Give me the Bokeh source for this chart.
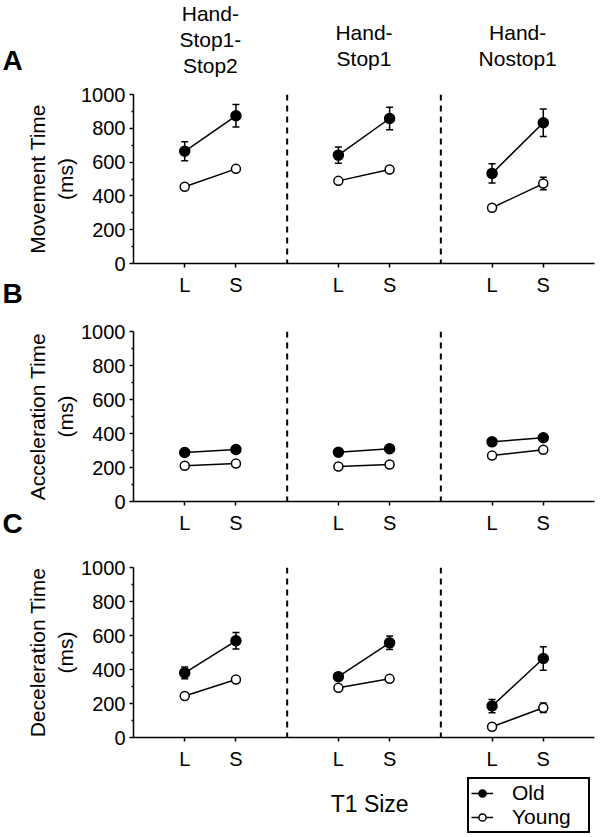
from bokeh.plotting import figure
from bokeh.models import Range1d, FixedTicker, Span, Legend, LegendItem
from bokeh.core.properties import value
from bokeh.layouts import column, row
from bokeh.embed import file_html
from bokeh.resources import INLINE

# ---------------- data ----------------
group_title_lines = [["Hand-", "Stop1-", "Stop2"], ["Hand-", "Stop1"], ["Hand-", "Nostop1"]]
sizes = ["L", "S"]
panel_letters = ["A", "B", "C"]
panel_ylabels = ["Movement Time\n(ms)", "Acceleration Time\n(ms)", "Deceleration Time\n(ms)"]
y_ticks = [0, 200, 400, 600, 800, 1000]
series_names = ["Old", "Young"]
x_title = "T1 Size"

# order: (group1 L, group1 S, group2 L, group2 S, group3 L, group3 S)
old_movement = [664, 874, 641, 858, 533, 833]
old_movement_err = [56, 67, 48, 67, 57, 81]
young_movement = [454, 560, 489, 556, 330, 473]
young_movement_err = [0, 0, 0, 0, 0, 37]

old_accel = [288, 306, 290, 310, 351, 375]
old_accel_err = [0, 0, 0, 0, 0, 0]
young_accel = [210, 224, 206, 218, 271, 304]
young_accel_err = [0, 0, 0, 0, 0, 0]

old_decel = [380, 569, 358, 557, 185, 465]
old_decel_err = [34, 48, 0, 40, 39, 69]
young_decel = [244, 341, 292, 345, 63, 175]
young_decel_err = [0, 0, 0, 0, 0, 28]

FONT = "Liberation Sans"
N_GROUPS = len(group_title_lines)
# each group occupies 3 x-units: L at 3g+1, S at 3g+2, separator at 3g+3
x_pos = [3 * g + 1 + j for g in range(N_GROUPS) for j in range(len(sizes))]
tick_labels = {x: sizes[i % 2] for i, x in enumerate(x_pos)}
minor_y = [(a + b) / 2 for a, b in zip(y_ticks[:-1], y_ticks[1:])]

STRIP_W = 23
FRAME_W = 461
BORDER_L = 110
BORDER_R = 4
COL_W = BORDER_L + FRAME_W + BORDER_R
HEADER_H = 82
FOOTER_H = 63
# (border top, frame height, border bottom) of each panel
PANEL_DIMS = [(12, 169, 49), (19, 170, 45), (21, 170, 35)]

STYLE = dict(line_color="black", line_width=1.5)
OLD_MARK = dict(marker="circle", size=10, fill_color="black", line_color="black", line_width=1.5)
YOUNG_MARK = dict(marker="circle", size=9, fill_color="white", line_color="black", line_width=1.5)


def blank_fig(width, height, x_range, y_range, **kw):
    p = figure(width=width, height=height, x_range=x_range, y_range=y_range,
               x_axis_location=None, y_axis_location=None,
               output_backend="svg", toolbar_location=None, **kw)
    p.xgrid.visible = False
    p.ygrid.visible = False
    p.outline_line_color = None
    return p


def make_panel(idx, old, old_err, young, young_err):
    b_top, frame_h, b_bot = PANEL_DIMS[idx]
    p = figure(frame_width=FRAME_W, frame_height=frame_h,
               min_border_left=BORDER_L, min_border_right=BORDER_R,
               min_border_top=b_top, min_border_bottom=b_bot,
               x_range=Range1d(0, 3 * N_GROUPS), y_range=Range1d(0, 1000),
               output_backend="svg", toolbar_location=None)
    p.xgrid.visible = False
    p.ygrid.visible = False
    p.outline_line_color = None

    for ax in (p.xaxis[0], p.yaxis[0]):
        ax.axis_line_color = "black"
        ax.axis_line_width = 1.5
        ax.major_tick_line_color = "black"
        ax.major_tick_line_width = 1.5
        ax.minor_tick_line_color = "black"
        ax.minor_tick_line_width = 1.5
        ax.major_tick_in = 0
        ax.major_tick_out = 4
        ax.minor_tick_in = 0
        ax.minor_tick_out = 2
        ax.major_label_text_font = FONT
        ax.major_label_text_font_size = "20px"
        ax.major_label_text_color = "black"
        ax.axis_label_text_font = FONT
        ax.axis_label_text_font_style = "normal"
        ax.axis_label_text_font_size = "21px"
        ax.axis_label_text_color = "black"

    p.yaxis.ticker = FixedTicker(ticks=y_ticks, minor_ticks=minor_y)
    p.yaxis.major_label_standoff = 4
    p.yaxis.axis_label = panel_ylabels[idx]
    p.yaxis.axis_label_standoff = 1

    p.xaxis.ticker = FixedTicker(ticks=x_pos)
    p.xaxis.major_label_overrides = tick_labels
    p.xaxis.major_label_standoff = 6

    for g in range(1, N_GROUPS):
        p.add_layout(Span(location=3 * g, dimension="height", line_color="black",
                          line_width=2, line_dash="6 5"))

    for vals, errs, mark in ((old, old_err, OLD_MARK), (young, young_err, YOUNG_MARK)):
        ex = [x for x, e in zip(x_pos, errs) if e > 0]
        elo = [v - e for v, e in zip(vals, errs) if e > 0]
        ehi = [v + e for v, e in zip(vals, errs) if e > 0]
        if ex:
            p.segment(x0=ex, y0=elo, x1=ex, y1=ehi, **STYLE)
            p.scatter(x=ex + ex, y=elo + ehi, marker="dash", size=7, **STYLE)
        xs = [x_pos[2 * g:2 * g + 2] for g in range(N_GROUPS)]
        ys = [vals[2 * g:2 * g + 2] for g in range(N_GROUPS)]
        p.multi_line(xs=xs, ys=ys, **STYLE)
        p.scatter(x=x_pos, y=vals, **mark)
    return p


# ---------------- header with group titles ----------------
header = blank_fig(COL_W, HEADER_H, Range1d(0, 3 * N_GROUPS), Range1d(HEADER_H, 0),
                   min_border_left=BORDER_L, min_border_right=BORDER_R,
                   min_border_top=0, min_border_bottom=0)
tx, ty, tt = [], [], []
for g, lines in enumerate(group_title_lines):
    n = len(lines)
    center = 39 if n == 3 else 45
    for i, t in enumerate(lines):
        tx.append(3 * g + 1.5)
        ty.append(center + (i - (n - 1) / 2) * 26)
        tt.append(t)
header.text(x=tx, y=ty, text=tt, text_align="center", text_baseline="alphabetic",
            text_font=value(FONT), text_font_size=value("21px"), text_color="black")

# ---------------- panels ----------------
pA = make_panel(0, old_movement, old_movement_err, young_movement, young_movement_err)
pB = make_panel(1, old_accel, old_accel_err, young_accel, young_accel_err)
pC = make_panel(2, old_decel, old_decel_err, young_decel, young_decel_err)

# ---------------- footer: x title + legend ----------------
footer = blank_fig(COL_W, FOOTER_H, Range1d(0, 3 * N_GROUPS), Range1d(FOOTER_H, 0),
                   min_border_left=BORDER_L, min_border_right=BORDER_R,
                   min_border_top=0, min_border_bottom=0)
footer.text(x=[4.61], y=[31], text=[x_title], text_align="center", text_baseline="alphabetic",
            text_font=value(FONT), text_font_size=value("23px"), text_color="black")
# legend renderers: the deceleration series, which fall outside this strip's visible range
old_l = footer.line(x=x_pos[:2], y=old_decel[:2], **STYLE)
old_s = footer.scatter(x=x_pos[:2], y=old_decel[:2], **OLD_MARK)
young_l = footer.line(x=x_pos[:2], y=young_decel[:2], **STYLE)
young_s = footer.scatter(x=x_pos[:2], y=young_decel[:2], **YOUNG_MARK)
legend = Legend(items=[LegendItem(label=series_names[0], renderers=[old_l, old_s]),
                       LegendItem(label=series_names[1], renderers=[young_l, young_s])],
                location=(334, 2), margin=0, padding=2, spacing=0,
                glyph_width=22, glyph_height=18, label_standoff=19, label_height=18,
                label_width=74,
                label_text_font=FONT, label_text_font_size="21px", label_text_color="black",
                border_line_color="black", border_line_width=2, border_line_alpha=1,
                background_fill_color="white", background_fill_alpha=1)
footer.add_layout(legend, "center")

# ---------------- left strip with panel letters ----------------
TOTAL_H = HEADER_H + sum(sum(d) for d in PANEL_DIMS) + FOOTER_H
strip = blank_fig(STRIP_W, TOTAL_H, Range1d(0, STRIP_W), Range1d(TOTAL_H, 0), min_border=0)
strip.text(x=[2, 2, 2], y=[60, 293, 523], text=panel_letters, text_align="left",
           text_baseline="alphabetic", text_font=value(FONT), text_font_size=value("28px"),
           text_font_style="bold", text_color="black")

layout = row(strip, column(header, pA, pB, pC, footer, spacing=0), spacing=0)
open("out.html", "w").write(file_html(layout, INLINE))
